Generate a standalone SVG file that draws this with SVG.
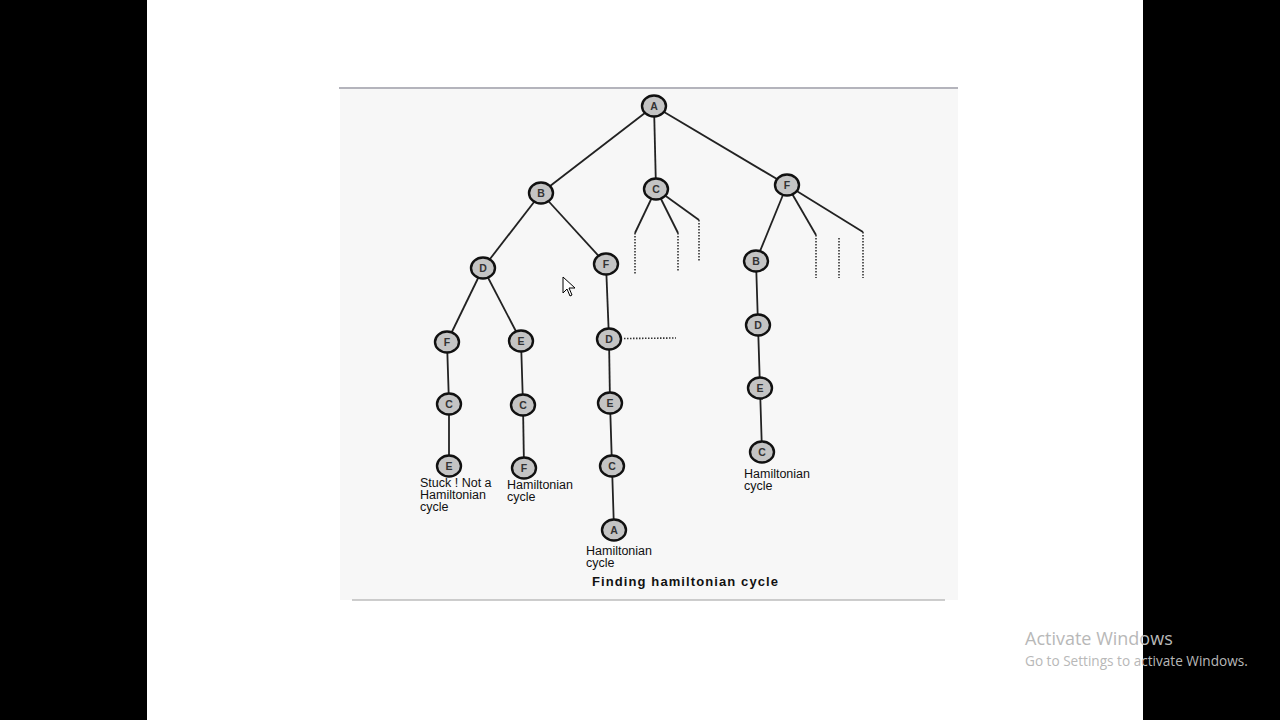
<svg xmlns="http://www.w3.org/2000/svg" width="1280" height="720" viewBox="0 0 1280 720">
<style>
.n ellipse{fill:#c4c4c4;stroke:#111;stroke-width:2.4}
.n text{font-family:"Liberation Sans",Arial,sans-serif;font-size:10.5px;font-weight:bold;fill:#333;text-anchor:middle}
.e line{stroke:#222;stroke-width:1.8}
.d line{stroke:#333;stroke-width:1.6;stroke-dasharray:1.5 1.5}
.lbl{font-family:"Liberation Sans",Arial,sans-serif;font-size:12.5px;fill:#111}
.wm{font-family:"Open Sans","Liberation Sans",sans-serif;fill:#b8b8b8}
</style>
<rect x="0" y="0" width="1280" height="720" fill="#ffffff"/>
<rect x="0" y="0" width="147" height="720" fill="#000"/>
<rect x="1143" y="0" width="137" height="720" fill="#000"/>
<rect x="340" y="88" width="618" height="512" fill="#f7f7f7"/>
<line x1="339" y1="88" x2="958" y2="88" stroke="#b4b4bc" stroke-width="2"/>
<line x1="352" y1="600" x2="945" y2="600" stroke="#bcbcbc" stroke-width="1.5"/>
<g id="connectors">
<g class="e">
<line x1="654" y1="106" x2="541" y2="193"/>
<line x1="654" y1="106" x2="656" y2="189"/>
<line x1="654" y1="106" x2="787" y2="185"/>
<line x1="541" y1="193" x2="483" y2="268"/>
<line x1="541" y1="193" x2="606" y2="264"/>
<line x1="483" y1="268" x2="447" y2="342"/>
<line x1="483" y1="268" x2="521" y2="341"/>
<line x1="447" y1="342" x2="449" y2="404"/>
<line x1="449" y1="404" x2="449" y2="466"/>
<line x1="521" y1="341" x2="523" y2="405"/>
<line x1="523" y1="405" x2="524" y2="468"/>
<line x1="606" y1="264" x2="609" y2="339"/>
<line x1="609" y1="339" x2="610" y2="403"/>
<line x1="610" y1="403" x2="612" y2="466"/>
<line x1="612" y1="466" x2="614" y2="530"/>
<line x1="656" y1="189" x2="635" y2="233"/>
<line x1="656" y1="189" x2="678" y2="233"/>
<line x1="656" y1="189" x2="699" y2="220"/>
<line x1="787" y1="185" x2="756" y2="261"/>
<line x1="787" y1="185" x2="816" y2="235"/>
<line x1="787" y1="185" x2="863" y2="232"/>
<line x1="756" y1="261" x2="758" y2="325"/>
<line x1="758" y1="325" x2="760" y2="388"/>
<line x1="760" y1="388" x2="762" y2="452"/>
</g>
<g class="d">
<line x1="635" y1="233" x2="635" y2="275"/>
<line x1="678" y1="233" x2="678" y2="272"/>
<line x1="699" y1="220" x2="699" y2="262"/>
<line x1="816" y1="235" x2="816" y2="278"/>
<line x1="839" y1="238" x2="839" y2="278"/>
<line x1="863" y1="232" x2="863" y2="278"/>
<line x1="624" y1="338.5" x2="676" y2="338"/>
</g>
</g>
<g id="nA" class="n"><ellipse cx="654" cy="106" rx="12" ry="10.5"/><text x="654" y="110">A</text></g>
<g id="nB" class="n"><ellipse cx="541" cy="193" rx="12" ry="10.5"/><text x="541" y="197">B</text></g>
<g id="nC" class="n"><ellipse cx="656" cy="189" rx="12" ry="10.5"/><text x="656" y="193">C</text></g>
<g id="nF" class="n"><ellipse cx="787" cy="185" rx="12" ry="10.5"/><text x="787" y="189">F</text></g>
<g id="nBD" class="n"><ellipse cx="483" cy="268" rx="12" ry="10.5"/><text x="483" y="272">D</text></g>
<g id="nBF" class="n"><ellipse cx="606" cy="264" rx="12" ry="10.5"/><text x="606" y="268">F</text></g>
<g id="nBDF" class="n"><ellipse cx="447" cy="342" rx="12" ry="10.5"/><text x="447" y="346">F</text></g>
<g id="nBDE" class="n"><ellipse cx="521" cy="341" rx="12" ry="10.5"/><text x="521" y="345">E</text></g>
<g id="nBFD" class="n"><ellipse cx="609" cy="339" rx="12" ry="10.5"/><text x="609" y="343">D</text></g>
<g id="nBDFC" class="n"><ellipse cx="449" cy="404" rx="12" ry="10.5"/><text x="449" y="408">C</text></g>
<g id="nBDEC" class="n"><ellipse cx="523" cy="405" rx="12" ry="10.5"/><text x="523" y="409">C</text></g>
<g id="nBFDE" class="n"><ellipse cx="610" cy="403" rx="12" ry="10.5"/><text x="610" y="407">E</text></g>
<g id="nBDFCE" class="n"><ellipse cx="449" cy="466" rx="12" ry="10.5"/><text x="449" y="470">E</text></g>
<g id="nBDECF" class="n"><ellipse cx="524" cy="468" rx="12" ry="10.5"/><text x="524" y="472">F</text></g>
<g id="nBFDEC" class="n"><ellipse cx="612" cy="466" rx="12" ry="10.5"/><text x="612" y="470">C</text></g>
<g id="nBFDECA" class="n"><ellipse cx="614" cy="530" rx="12" ry="10.5"/><text x="614" y="534">A</text></g>
<g id="nFB" class="n"><ellipse cx="756" cy="261" rx="12" ry="10.5"/><text x="756" y="265">B</text></g>
<g id="nFBD" class="n"><ellipse cx="758" cy="325" rx="12" ry="10.5"/><text x="758" y="329">D</text></g>
<g id="nFBDE" class="n"><ellipse cx="760" cy="388" rx="12" ry="10.5"/><text x="760" y="392">E</text></g>
<g id="nFBDEC" class="n"><ellipse cx="762" cy="452" rx="12" ry="10.5"/><text x="762" y="456">C</text></g>
<g id="labels">
<text class="lbl" x="420" y="487">Stuck ! Not a</text>
<text class="lbl" x="420" y="499">Hamiltonian</text>
<text class="lbl" x="420" y="511">cycle</text>
<text class="lbl" x="507" y="489">Hamiltonian</text>
<text class="lbl" x="507" y="501">cycle</text>
<text class="lbl" x="586" y="555">Hamiltonian</text>
<text class="lbl" x="586" y="567">cycle</text>
<text class="lbl" x="744" y="478">Hamiltonian</text>
<text class="lbl" x="744" y="490">cycle</text>
<text x="592" y="586" font-family="Liberation Sans,Arial,sans-serif" font-size="13" font-weight="bold" letter-spacing="1.1" fill="#111">Finding hamiltonian cycle</text>
</g>
<path d="M563 277 L563 293 L567 289 L570 296 L572 295 L569 288 L575 288 Z" fill="#fff" stroke="#000" stroke-width="1"/>
<text class="wm" x="1025" y="645" font-size="18">Activate Windows</text>
<text class="wm" x="1025" y="666" font-size="13.6">Go to Settings to activate Windows.</text>
</svg>
